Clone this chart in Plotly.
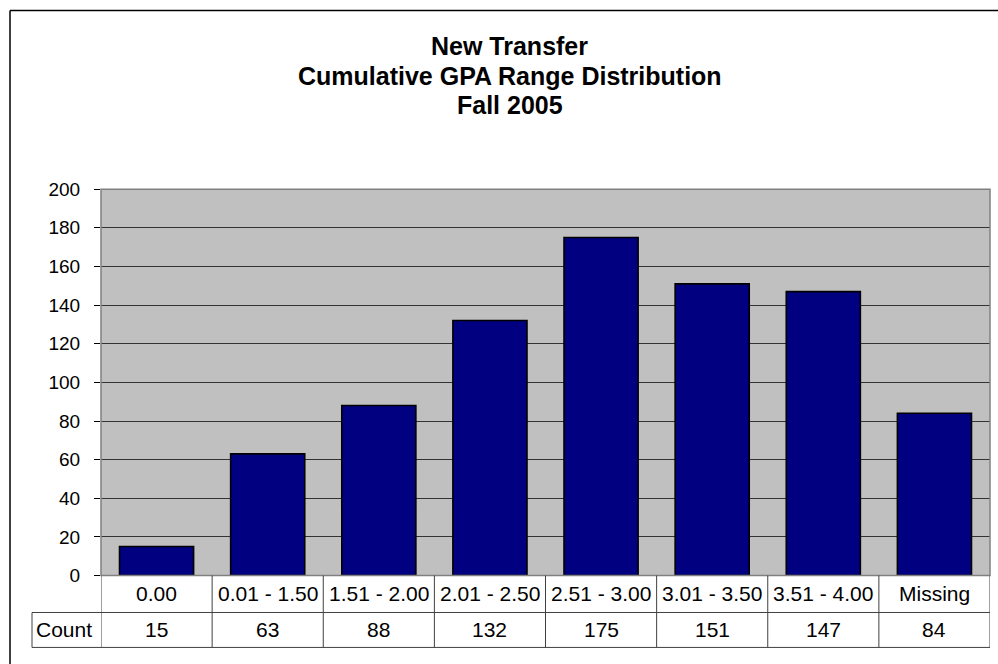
import plotly.graph_objects as go

categories = ["0.00", "0.01 - 1.50", "1.51 - 2.00", "2.01 - 2.50", "2.51 - 3.00",
              "3.01 - 3.50", "3.51 - 4.00", "Missing"]
counts = [15, 63, 88, 132, 175, 151, 147, 84]
series_name = "Count"
title_lines = ["New Transfer", "Cumulative GPA Range Distribution", "Fall 2005"]
y_ticks = list(range(0, 201, 20))

W, H = 998, 664
FONT = "Liberation Sans, Arial, sans-serif"

# the page photo maps figure y to picture y as approx 9.5 + 0.97*y; place items so
# they land on the reference's pixel rows
S_Y, B_Y = 0.97, 9.5


def py(y_target):
    y = (y_target - B_Y) / S_Y
    y = min(max(y, 0.5), H - 0.5)
    return 1 - y / H


def px(x):
    return x / W


x_idx = list(range(len(categories)))

fig = go.Figure()
fig.add_trace(go.Bar(
    x=x_idx, y=counts, name=series_name,
    marker=dict(color="#000080", line=dict(color="#000000", width=1.6)),
    showlegend=False, hoverinfo="y",
))

plot_left, plot_right, plot_top, plot_bottom = 101, 990, 189, 576
row1_bottom, row2_bottom = 613, 648
count_left = 32

shapes = []
line_col = "#404040"
# outer chart border (left & top visible)
shapes.append(dict(type="line", xref="paper", yref="paper", x0=px(10), x1=px(10),
                   y0=py(8), y1=-0.1, line=dict(color="#000000", width=1.5)))
shapes.append(dict(type="line", xref="paper", yref="paper", x0=px(10), x1=1.1,
                   y0=py(8), y1=py(8), line=dict(color="#000000", width=1.5)))
# plot area border
shapes.append(dict(type="rect", xref="paper", yref="paper", x0=px(plot_left), x1=px(plot_right),
                   y0=py(plot_bottom), y1=py(plot_top), line=dict(color="#808080", width=1.5),
                   layer="above"))
# table lines
for i in range(len(categories) + 1):
    shapes.append(dict(type="line", xref="x", yref="paper", x0=i - 0.5, x1=i - 0.5,
                       y0=py(plot_bottom), y1=py(row2_bottom), line=dict(color=line_col, width=1)))
for yy in (row1_bottom, row2_bottom):
    shapes.append(dict(type="line", xref="paper", yref="paper", x0=px(count_left), x1=px(plot_right),
                       y0=py(yy), y1=py(yy), line=dict(color=line_col, width=1)))
shapes.append(dict(type="line", xref="paper", yref="paper", x0=px(count_left), x1=px(count_left),
                   y0=py(row1_bottom), y1=py(row2_bottom), line=dict(color=line_col, width=1)))

annotations = []
title_y = [46, 76, 105]
for t, yy in zip(title_lines, title_y):
    annotations.append(dict(text="<b>" + t + "</b>", xref="paper", yref="paper",
                            x=px(510), y=py(yy), xanchor="center", yanchor="middle",
                            showarrow=False, font=dict(family=FONT, size=25, color="#000000")))
for i, (c, v) in enumerate(zip(categories, counts)):
    annotations.append(dict(text=c, xref="x", yref="paper", x=i, y=py(594),
                            xanchor="center", yanchor="middle", showarrow=False,
                            font=dict(family=FONT, size=21, color="#000000")))
    annotations.append(dict(text=str(v), xref="x", yref="paper", x=i, y=py(630),
                            xanchor="center", yanchor="middle", showarrow=False,
                            font=dict(family=FONT, size=21, color="#000000")))
annotations.append(dict(text=series_name, xref="paper", yref="paper", x=px(count_left + 2),
                        y=py(630), xanchor="left", yanchor="middle",
                        showarrow=False, font=dict(family=FONT, size=21, color="#000000")))

fig.update_layout(
    width=W, height=H, autosize=False,
    margin=dict(l=0, r=0, t=0, b=0),
    paper_bgcolor="#FFFFFF", plot_bgcolor="#C0C0C0",
    bargap=1 / 3,
    font=dict(family=FONT, size=20, color="#000000"),
    xaxis=dict(domain=[px(plot_left), px(plot_right)], range=[-0.5, len(categories) - 0.5],
               showticklabels=False, showgrid=False, zeroline=False, ticks="",
               fixedrange=True),
    yaxis=dict(domain=[py(plot_bottom), py(plot_top)], range=[0, 200], tickvals=y_ticks,
               showgrid=True, gridcolor="#333333", gridwidth=1, zeroline=False,
               ticks="outside", ticklen=6, tickcolor="#000000", tickwidth=1,
               showline=False, ticklabelstandoff=10,
               tickfont=dict(family=FONT, size=19, color="#000000"), fixedrange=True),
    shapes=shapes, annotations=annotations,
)

post = (
    "var gd=document.getElementById('{plot_id}');"
    "gd.style.position='fixed';gd.style.top='0px';gd.style.left='0px';"
    "document.body.style.margin='0';document.body.style.padding='0';"
    "document.documentElement.style.overflow='hidden';"
)

fig.write_html("out.html", config={"displayModeBar": False}, post_script=post)
